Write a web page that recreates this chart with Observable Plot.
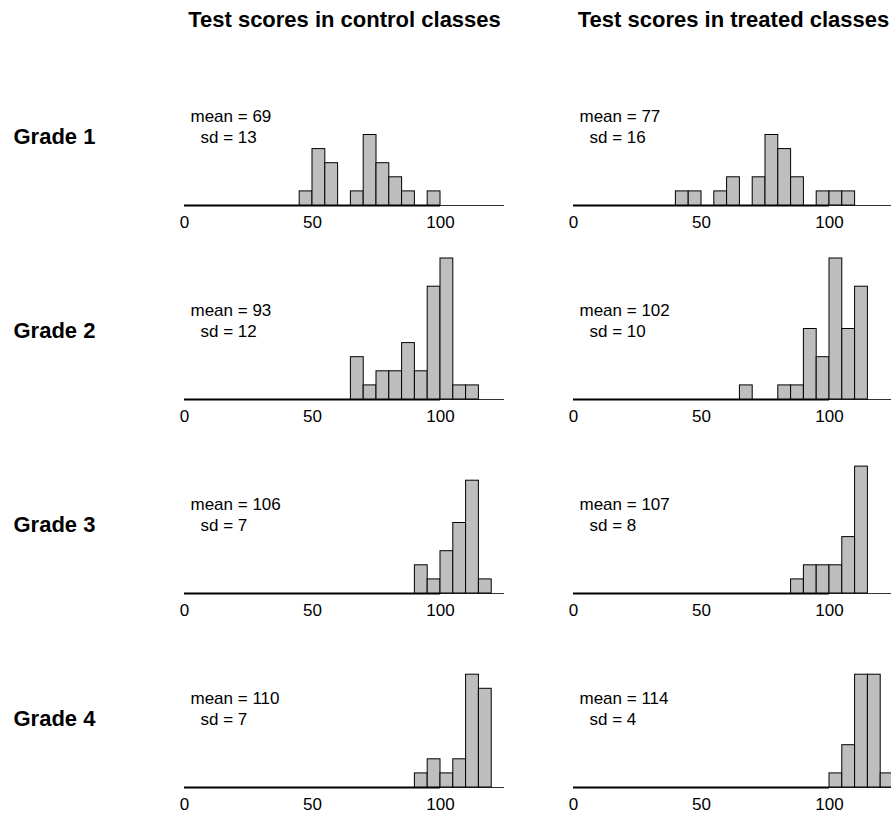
<!DOCTYPE html>
<html>
<head>
<meta charset="utf-8">
<script src="https://cdn.jsdelivr.net/npm/d3@7"></script>
<script src="https://cdn.jsdelivr.net/npm/@observablehq/plot@0.6"></script>
<style>
html, body { margin: 0; padding: 0; background: #fff; overflow: hidden; }
#chart svg { display: block; max-width: none !important; }
</style>
</head>
<body>
<div id="chart"></div>
<script>
// ---- data ----
const grades = ["Grade 1", "Grade 2", "Grade 3", "Grade 4"];
const groups = ["Test scores in control classes", "Test scores in treated classes"];
const binLower = [40, 45, 50, 55, 60, 65, 70, 75, 80, 85, 90, 95, 100, 105, 110, 115, 120];
const binWidth = 5;
const controlCounts = [
  [0, 1, 4, 3, 0, 1, 5, 3, 2, 1, 0, 1, 0, 0, 0, 0, 0],
  [0, 0, 0, 0, 0, 3, 1, 2, 2, 4, 2, 8, 10, 1, 1, 0, 0],
  [0, 0, 0, 0, 0, 0, 0, 0, 0, 0, 2, 1, 3, 5, 8, 1, 0],
  [0, 0, 0, 0, 0, 0, 0, 0, 0, 0, 1, 2, 1, 2, 8, 7, 0]
];
const treatedCounts = [
  [1, 1, 0, 1, 2, 0, 2, 5, 4, 2, 0, 1, 1, 1, 0, 0, 0],
  [0, 0, 0, 0, 0, 1, 0, 0, 1, 1, 5, 3, 10, 5, 8, 0, 0],
  [0, 0, 0, 0, 0, 0, 0, 0, 0, 1, 2, 2, 2, 4, 9, 0, 0],
  [0, 0, 0, 0, 0, 0, 0, 0, 0, 0, 0, 0, 1, 3, 8, 8, 1]
];
const controlMeans = [69, 93, 106, 110];
const controlSds = [13, 12, 7, 7];
const treatedMeans = [77, 102, 107, 114];
const treatedSds = [16, 10, 8, 4];
const xDomain = [0, 125];
const xTicks = [0, 50, 100];
const yDomain = [0, 10];

// ---- tables built from the arrays ----
const countsByGroup = [controlCounts, treatedCounts];
const meansByGroup = [controlMeans, treatedMeans];
const sdsByGroup = [controlSds, treatedSds];
const bars = [];
const stats = [];
grades.forEach((g, gi) => {
  groups.forEach((grp, k) => {
    countsByGroup[k][gi].forEach((c, i) => {
      if (c > 0) bars.push({grade: g, group: grp, lo: binLower[i], hi: binLower[i] + binWidth, count: c});
    });
    stats.push({grade: g, group: grp, mean: meansByGroup[k][gi], sd: sdsByGroup[k][gi]});
  });
});
const axisSpan = [{lo: d3.min(xTicks), hi: d3.max(xTicks)}];

const font = "'Liberation Sans', Arial, Helvetica, sans-serif";

const chart = Plot.plot({
  width: 900,
  height: 816,
  marginLeft: 184,
  marginRight: 7,
  marginTop: 63,
  marginBottom: 29,
  style: {fontFamily: font, background: "white", color: "black", maxWidth: "none"},
  fx: {domain: groups, paddingInner: 0.1774, paddingOuter: 0},
  fy: {domain: grades, paddingInner: 0.2744, paddingOuter: 0},
  x: {domain: xDomain},
  y: {domain: yDomain, axis: null},
  marks: [
    Plot.ruleY([0], {stroke: "#333", strokeWidth: 1}),
    Plot.ruleY(axisSpan, {x1: "lo", x2: "hi", y: () => 0, stroke: "black", strokeWidth: 2}),
    Plot.rect(bars, {
      fx: "group", fy: "grade",
      x1: "lo", x2: "hi", y1: () => 0, y2: "count",
      inset: 0,
      fill: "#bebebe", stroke: "black", strokeWidth: 1
    }),
    Plot.text(stats, {
      fx: "group", fy: "grade",
      text: d => `mean = ${d.mean}`,
      frameAnchor: "bottom-left", textAnchor: "start", lineAnchor: "bottom",
      dx: 6, dy: -84, fontSize: 17, fill: "black"
    }),
    Plot.text(stats, {
      fx: "group", fy: "grade",
      text: d => `sd = ${d.sd}`,
      frameAnchor: "bottom-left", textAnchor: "start", lineAnchor: "bottom",
      dx: 16, dy: -63, fontSize: 17, fill: "black"
    }),
    Plot.axisX({
      ticks: xTicks, anchor: "bottom", tickSize: 0, tickPadding: 10,
      fontSize: 17, label: null, facetAnchor: null, tickFormat: d => String(d)
    }),
    Plot.axisFx({
      anchor: "top", tickSize: 0, tickPadding: 38,
      fontSize: 22, fontWeight: "bold", label: null
    }),
    Plot.axisFy({
      anchor: "left", tickSize: 0, tickPadding: 171, textAnchor: "start",
      fontSize: 22, fontWeight: "bold", label: null, dy: 2
    })
  ]
});
document.getElementById("chart").appendChild(chart);
</script>
</body>
</html>
